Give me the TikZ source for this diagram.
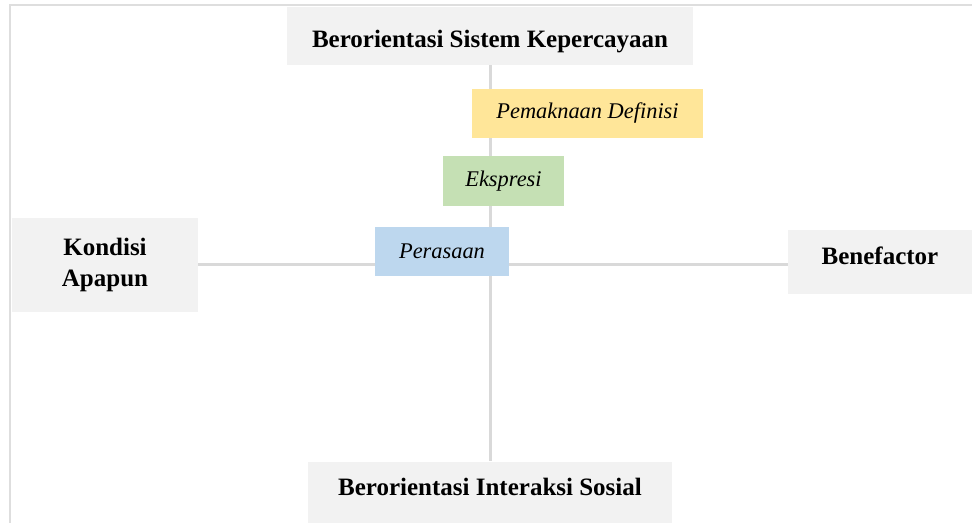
\documentclass[tikz,border=0pt]{standalone}
\usepackage{fontspec}
\setmainfont{Liberation Serif}
\usepackage{xcolor}
\usepackage{tikz}
\definecolor{axisgray}{RGB}{217,217,217}
\definecolor{framegray}{RGB}{222,222,222}
\definecolor{polewash}{RGB}{242,242,242}
\definecolor{maknawash}{RGB}{255,230,153}
\definecolor{ekspresiwash}{RGB}{197,224,180}
\definecolor{rasawash}{RGB}{189,215,238}

\begin{document}
\begin{tikzpicture}[x=0.5pt, y=-0.5pt,
		pole/.style={fill=polewash, inner sep=0pt, align=center,
			font=\bfseries\fontsize{12.5}{15.5}\selectfont},
		facet/.style={inner sep=0pt, font=\itshape\fontsize{11.2}{13}\selectfont},
		axisline/.style={line width=1.5pt, axisgray}]
		\useasboundingbox (0,0) rectangle (972,523);
		% frame edges of the original figure
		\draw[framegray, line width=1pt] (9.5,523) -- (9.5,5.5) -- (972,5.5);
		% the four poles
		\node[pole, minimum width=203pt, minimum height=29pt, text height=15pt, text depth=3pt]
			(sistem) at (490,36) {Berorientasi Sistem Kepercayaan};
		\node[pole, minimum width=182pt, minimum height=30.5pt, text height=6pt, text depth=3pt]
			(interaksi) at (490,492) {Berorientasi Interaksi Sosial};
		\node[pole, minimum width=93pt, minimum height=46.5pt] (kondisi) at (105,265)
			{Kondisi\\Apapun};
		\node[pole, minimum width=92pt, minimum height=32pt, text height=5pt, text depth=3pt]
			(benefactor) at (880,262) {Benefactor};
		\draw[axisline] (sistem) -- (interaksi);
		\draw[axisline] (kondisi.east) -- (benefactor.west |- kondisi.east);
		% the three steps along the axis
		\node[facet, fill=maknawash, minimum width=115.5pt, minimum height=24.5pt] (makna)
			at (587.5,113.5) {Pemaknaan Definisi};
		\node[facet, fill=ekspresiwash, minimum width=60.5pt, minimum height=25pt] (ekspresi)
			at (503.5,181) {Ekspresi};
		\node[facet, fill=rasawash, minimum width=67pt, minimum height=24.5pt] (rasa)
			at (442,251.5) {Perasaan};
	\end{tikzpicture}
\end{document}
